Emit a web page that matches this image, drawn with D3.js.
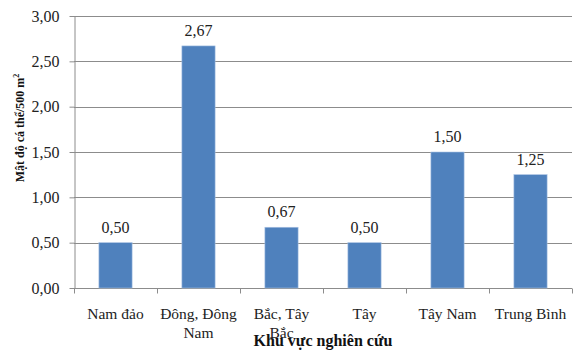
<!DOCTYPE html>
<html><head><meta charset="utf-8">
<script src="https://cdn.jsdelivr.net/npm/d3@7"></script>
<style>body{margin:0;background:#fff}svg{display:block}</style>
</head><body>
<script>
const categories = [["Nam đảo"], ["Đông, Đông", "Nam"], ["Bắc, Tây", "Bắc"], ["Tây"], ["Tây Nam"], ["Trung Bình"]];
const values = [0.50, 2.67, 0.67, 0.50, 1.50, 1.25];
const yTicks = [0, 0.5, 1, 1.5, 2, 2.5, 3];
const yTitle = "Mật độ cá thể/500 m";
const xTitle = "Khu vực nghiên cứu";

const FONT = "Liberation Serif";
const W = 578, H = 351;
const m = {left: 74, right: 6, top: 16, bottom: 63};
const svg = d3.select("body").append("svg").attr("width", W).attr("height", H);
const x = d3.scaleBand().domain(d3.range(categories.length)).range([m.left, W - m.right]).paddingInner(0.6).paddingOuter(0.3);
const xb = d3.scaleBand().domain(d3.range(categories.length)).range([m.left, W - m.right]);
const y = d3.scaleLinear().domain([0, 3]).range([H - m.bottom, m.top]);
const fmt = v => v.toFixed(2).replace(".", ",");

// gridlines
svg.append("g").selectAll("line").data(yTicks.filter(d => d > 0)).join("line")
  .attr("x1", m.left).attr("x2", W - m.right)
  .attr("y1", d => Math.round(y(d)) + 0.5).attr("y2", d => Math.round(y(d)) + 0.5)
  .attr("stroke", "#8c8c8c").attr("stroke-width", 1);

// y axis
const ya = svg.append("g").attr("transform", `translate(${m.left + 0.5},0)`)
  .call(d3.axisLeft(y).tickValues(yTicks).tickFormat(fmt).tickSize(5).tickSizeOuter(0));
ya.select(".domain").attr("stroke", "#8c8c8c");
ya.selectAll(".tick line").attr("stroke", "#8c8c8c");
ya.selectAll(".tick text").attr("fill", "#222").attr("x", -15).attr("dy", "0.33em")
  .style("font-family", FONT).style("font-size", "16px");

// x axis
const xa = svg.append("g").attr("transform", `translate(0,${Math.round(y(0)) + 0.5})`);
xa.append("line").attr("x1", m.left).attr("x2", W - m.right).attr("stroke", "#8c8c8c");
xa.selectAll("line.t").data(d3.range(categories.length + 1)).join("line").attr("class", "t")
  .attr("x1", d => Math.round(m.left + d * xb.bandwidth()) + 0.5)
  .attr("x2", d => Math.round(m.left + d * xb.bandwidth()) + 0.5)
  .attr("y1", 0).attr("y2", 5).attr("stroke", "#8c8c8c");

// bars
svg.append("g").selectAll("rect").data(values).join("rect")
  .attr("x", (d, i) => x(i)).attr("width", x.bandwidth())
  .attr("y", d => y(d)).attr("height", d => y(0) - y(d))
  .attr("fill", "#4f81bd").attr("stroke", "#a9c2e3").attr("stroke-width", 0.6);

// value labels
svg.append("g").selectAll("text").data(values).join("text")
  .attr("x", (d, i) => x(i) + x.bandwidth() / 2).attr("y", d => y(d) - 10)
  .attr("text-anchor", "middle").attr("fill", "#222")
  .style("font-family", FONT).style("font-size", "16px").text(fmt);

// category labels
const cl = svg.append("g").selectAll("text").data(categories).join("text")
  .attr("x", (d, i) => xb(i) + xb.bandwidth() / 2).attr("y", 319)
  .attr("text-anchor", "middle").attr("fill", "#222")
  .style("font-family", FONT).style("font-size", "15.5px");
cl.selectAll("tspan").data(d => d).join("tspan")
  .attr("x", function () { return this.parentNode.getAttribute("x"); })
  .attr("dy", (d, i) => i ? 19 : 0).text(d => d);

// x title
svg.append("text").attr("x", 323).attr("y", 346).attr("text-anchor", "middle")
  .attr("font-weight", "bold").attr("fill", "#111")
  .style("font-family", FONT).style("font-size", "16px").text(xTitle);

// y title
const yt = svg.append("text").attr("transform", `translate(24,128) rotate(-90)`)
  .attr("text-anchor", "middle").attr("font-weight", "bold").attr("fill", "#111")
  .style("font-family", FONT).style("font-size", "12px");
yt.append("tspan").text(yTitle);
yt.append("tspan").style("font-size", "8px").attr("dy", -5).text("2");
</script>
</body></html>
